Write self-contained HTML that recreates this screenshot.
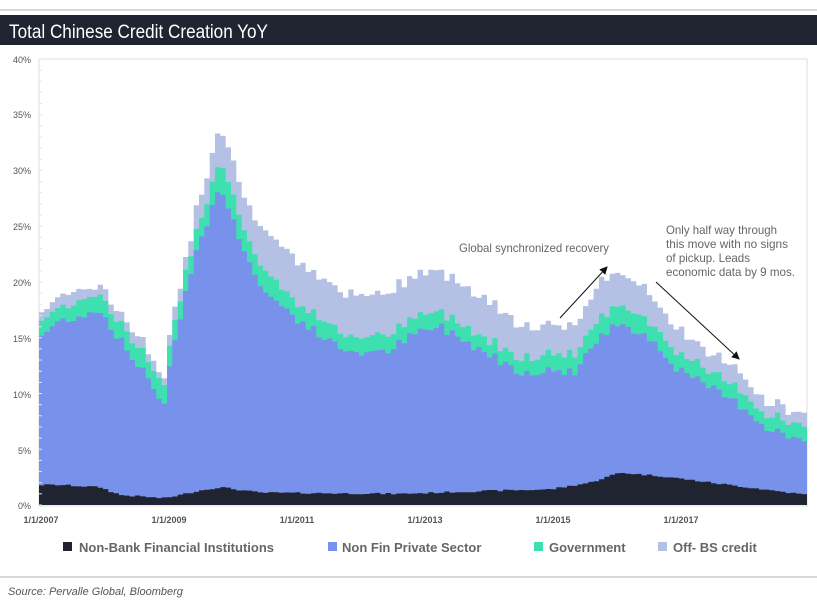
<!DOCTYPE html>
<html><head><meta charset="utf-8"><style>
body{margin:0;width:817px;height:605px;background:#fff;overflow:hidden;font-family:"Liberation Sans",sans-serif}
</style></head><body>
<svg id="s" width="817" height="605" xmlns="http://www.w3.org/2000/svg">
<rect x="0" y="9" width="817" height="2" fill="#d8d8d8"/>
<rect x="0" y="15" width="817" height="30" fill="#1f2530"/>
<text x="9" y="38" font-family="Liberation Sans, sans-serif" font-size="19" fill="#fff" textLength="259" lengthAdjust="spacingAndGlyphs">Total Chinese Credit Creation YoY</text>
<rect x="39" y="59" width="768" height="447" fill="none" stroke="#dcdcdc" stroke-width="1"/>
<g id="plot"></g>
<g font-family="Liberation Sans, sans-serif" font-size="9" fill="#555" text-anchor="end">
<text x="31" y="63">40%</text><text x="31" y="118">35%</text><text x="31" y="174">30%</text>
<text x="31" y="230">25%</text><text x="31" y="286">20%</text><text x="31" y="342">15%</text>
<text x="31" y="398">10%</text><text x="31" y="454">5%</text><text x="31" y="509">0%</text>
</g>
<g font-family="Liberation Sans, sans-serif" font-size="9" font-weight="bold" fill="#555" text-anchor="middle">
<text x="41" y="523">1/1/2007</text><text x="169" y="523">1/1/2009</text><text x="297" y="523">1/1/2011</text>
<text x="425" y="523">1/1/2013</text><text x="553" y="523">1/1/2015</text><text x="681" y="523">1/1/2017</text>
</g>
<g font-family="Liberation Sans, sans-serif" font-size="12" fill="#666" lengthAdjust="spacingAndGlyphs">
<text x="459" y="252" textLength="150" lengthAdjust="spacingAndGlyphs">Global synchronized recovery</text>
<text x="666" y="234" textLength="111" lengthAdjust="spacingAndGlyphs">Only half way through</text>
<text x="666" y="248" textLength="122" lengthAdjust="spacingAndGlyphs">this move with no signs</text>
<text x="666" y="262" textLength="84" lengthAdjust="spacingAndGlyphs">of pickup. Leads</text>
<text x="666" y="276" textLength="129" lengthAdjust="spacingAndGlyphs">economic data by 9 mos.</text>
</g>
<defs><marker id="a" markerWidth="8" markerHeight="8" refX="7" refY="4" orient="auto"><path d="M0,0L8,4L0,8z" fill="#111"/></marker></defs>
<line x1="560" y1="318" x2="607" y2="267" stroke="#111" stroke-width="1" marker-end="url(#a)"/>
<line x1="656" y1="282" x2="739" y2="359" stroke="#111" stroke-width="1" marker-end="url(#a)"/>
<g font-family="Liberation Sans, sans-serif" font-size="13" font-weight="bold" fill="#666">
<rect x="63" y="542" width="9" height="9" fill="#1f2430"/><text x="79" y="552">Non-Bank Financial Institutions</text>
<rect x="328" y="542" width="9" height="9" fill="#7891ea"/><text x="342" y="552">Non Fin Private Sector</text>
<rect x="534" y="542" width="9" height="9" fill="#3ee0b0"/><text x="549" y="552">Government</text>
<rect x="658" y="542" width="9" height="9" fill="#b4c0e4"/><text x="673" y="552">Off- BS credit</text>
</g>
<rect x="0" y="576" width="817" height="2" fill="#d8d8d8"/>
<text x="8" y="595" font-family="Liberation Sans, sans-serif" font-size="11" font-style="italic" fill="#555">Source: Pervalle Global, Bloomberg</text>
</svg>
<script>
function interp(k,x){for(var i=0;i<k.length-1;i++){if(x<=k[i+1][0]){var t=(x-k[i][0])/(k[i+1][0]-k[i][0]);return k[i][1]+t*(k[i+1][1]-k[i][1]);}}return k[k.length-1][1];}
var priv=[[39,15],[60,16.5],[100,17.5],[130,13.5],[155,10.5],[164,8.8],[172,14],[195,22.5],[220,28.5],[240,24],[260,19.5],[300,16.5],[340,14],[380,13.5],[420,15.5],[440,16],[480,14],[520,12],[560,12],[575,12],[590,14],[620,16.5],[650,15],[680,12],[710,10.5],[740,9],[770,6.8],[808,5.5]];
var gov=[[39,1.3],[200,1.8],[220,2.5],[240,2],[300,1.5],[500,1.3],[600,1.7],[700,1.4],[808,1.2]];
var off=[[39,1],[160,0.8],[180,1],[220,3.2],[250,3.2],[300,3.8],[420,3.8],[480,3.5],[530,3],[560,2.5],[590,3],[620,3],[660,2.5],[700,1.7],[760,1.4],[808,1]];
var nb=[[39,1.8],[60,1.8],[100,1.6],[120,0.9],[165,0.6],[200,1.3],[220,1.6],[260,1.1],[400,1.0],[500,1.3],[550,1.4],[590,2],[620,2.9],[660,2.6],[720,1.9],[808,0.9]];
var w=5.333,n=Math.round((807-39)/w),seed=7;
function rnd(){seed=(seed*9301+49297)%233280;return seed/233280-0.5;}
function Y(v){return 505-v*11.15;}
var P=[[],[],[],[]];
for(var i=0;i<n;i++){var x=39+i*w+w/2;var p=interp(priv,x)+rnd()*0.9;var g=p+interp(gov,x)+rnd()*0.4;var o=g+interp(off,x)+rnd()*0.6;var b=interp(nb,x)+rnd()*0.15;P[0].push(o);P[1].push(g);P[2].push(p);P[3].push(b);}
var cols=["#b4c0e4","#3ee0b0","#7891ea","#1f2430"],h="";
for(var s=0;s<4;s++){var d="M39,505";for(var i=0;i<n;i++){var x0=39+i*w,y=Y(P[s][i]).toFixed(1);d+="L"+x0.toFixed(1)+","+y+"L"+(x0+w).toFixed(1)+","+y;}d+="L807,505Z";h+='<path d="'+d+'" fill="'+cols[s]+'"/>';}
for(var i=0;i<=40;i++){h+='<line x1="39" x2="42" y1="'+(505-i*11.15)+'" y2="'+(505-i*11.15)+'" stroke="#e4e4e4"/>';}
document.getElementById("plot").innerHTML=h;
</script>
</body></html>
